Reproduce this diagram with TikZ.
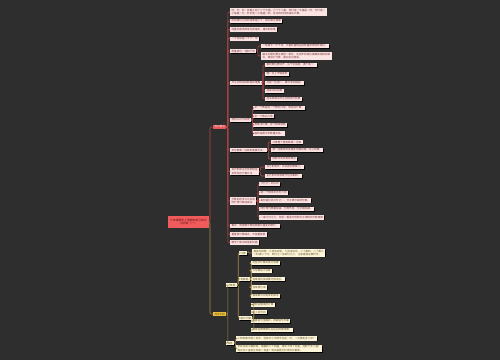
\documentclass[tikz,border=0pt]{standalone}
\usepackage{fontspec}
\setmainfont{Noto Sans CJK SC}
\usetikzlibrary{shadows}

\definecolor{bgcol}{HTML}{2E2E2E}
\definecolor{rootred}{HTML}{F25B5B}
\definecolor{rootink}{HTML}{5C1414}
\definecolor{knowred}{HTML}{E35858}
\definecolor{pinkfill}{HTML}{FBE4E4}
\definecolor{redink}{HTML}{7A3434}
\definecolor{redwire}{HTML}{B44646}
\definecolor{goldfill}{HTML}{F2C13A}
\definecolor{creamfill}{HTML}{FDF5DA}
\definecolor{goldink}{HTML}{665628}
\definecolor{goldwire}{HTML}{A08A4A}

\tikzset{
	rootbox/.style={fill=rootred, text=rootink, anchor=west, align=center,
		font=\fontsize{2.8}{3.6}\selectfont, inner xsep=2pt, inner ysep=3pt},
	knowbox/.style={fill=knowred, text=pinkfill, anchor=west,
		font=\fontsize{2.6}{3.2}\selectfont, inner xsep=1.4pt, inner ysep=0.8pt},
	exerbox/.style={fill=goldfill, text=goldink, anchor=west,
		font=\fontsize{2.6}{3.2}\selectfont, inner xsep=1.4pt, inner ysep=0.8pt},
	leaf/.style={anchor=west, align=left, font=\fontsize{2.6}{3.2}\selectfont,
		inner xsep=1.4pt, inner ysep=0.8pt,
		drop shadow={shadow xshift=0.7pt, shadow yshift=-0.7pt, fill=black, opacity=0.9}},
	redleaf/.style={leaf, fill=pinkfill, text=redink},
	goldleaf/.style={leaf, fill=creamfill, text=goldink},
	redline/.style={draw=redwire, line width=0.6pt, rounded corners=1.2pt},
	goldline/.style={draw=goldwire, line width=0.6pt, rounded corners=1.2pt}
}

\begin{document}
\begin{tikzpicture}[x=1pt, y=-1pt]
	% Background and page size
	\fill[bgcol] (0,0) rectangle (500,360);
	\useasboundingbox (0,0) rectangle (500,360);

	% Root and the two main branches
	\node[rootbox] (root) at (168,222) {三年级数学上册期末复习知识\\点归纳（一）};
	\node[knowbox] (know) at (213,127) {知识要点};
	\node[exerbox] (exer) at (213,314) {典型例题};

	% Knowledge points
	\node[redleaf] (k1) at (230,12) {时、分、秒：钟面上有十二个大格，六十个小格，时针走一大格是一时，分针走一\\小格是一分，秒针走一小格是一秒，经过的时间用减法计算。};
	\node[redleaf] (k2) at (230,21) {时间单位之间的进率是六十，相邻单位换算};
	\node[redleaf] (k3) at (230,29.5) {测量长度常用单位有毫米、厘米和米等};
	\node[redleaf] (k4) at (230,38.5) {一千米就是一千个一米};
	\node[redleaf] (k5) at (230,51) {质量单位：吨和千克};
	\node[redleaf] (k6) at (230,83) {万以内的加法和减法笔算};
	\node[redleaf] (k7) at (230,120) {倍的认识与应用};
	\node[redleaf] (k8) at (230,150) {多位数乘一位数的笔算方法：};
	\node[redleaf] (k9) at (230,171.5) {长方形和正方形的特征\\及周长的计算方法};
	\node[redleaf] (k10) at (230,201) {分数的初步认识以及\\同分母分数加减法};
	\node[redleaf] (k11) at (230,226) {集合：用图表示两组数据中重复的部分。};
	\node[redleaf] (k12) at (230,234.5) {重叠部分要减去，不能重复数};
	\node[redleaf] (k13) at (230,242.5) {数学广角中的搭配问题};

	% Details of the knowledge points
	\node[redleaf] (k5a) at (261,46) {一吨等于一千千克，计量较重物品的质量常用吨作单位。};
	\node[redleaf] (k5b) at (261,56) {解决问题时要注意统一单位，先把不同单位换算成相同的单\\位，再进行计算，最后写出答语。};
	\node[redleaf] (k6a) at (265,65) {相同数位要对齐，从个位加起，满十进一。};
	\node[redleaf] (k6b) at (265,74) {哪一位上不够减时};
	\node[redleaf] (k6c) at (265,83) {从前一位退一，再与本位相加。};
	\node[redleaf] (k6d) at (265,91) {加减法的验算};
	\node[redleaf] (k6e) at (265,99) {加法和减法可以互相进行验算};
	\node[redleaf] (k7a) at (253,108) {求一个数是另一个数的几倍，用除法计算。};
	\node[redleaf] (k7b) at (253,116) {求一个数的几倍};
	\node[redleaf] (k7c) at (253,125) {用乘法计算，这个数乘倍数};
	\node[redleaf] (k7d) at (253,133.5) {画线段图分析数量关系。};
	\node[redleaf] (k8a) at (271,142) {口算整十整百数乘一位数};
	\node[redleaf] (k8b) at (271,150) {用一位数依次去乘多位数的每一位上的数。};
	\node[redleaf] (k8c) at (271,159) {因数中间有零的乘法};
	\node[redleaf] (k9a) at (265,167) {长方形周长：长加宽的和乘二。};
	\node[redleaf] (k9b) at (265,176) {正方形的周长等于边长乘四。};
	\node[redleaf] (k10a) at (259,184) {几分之一的认识};
	\node[redleaf] (k10b) at (259,192.5) {把一个物体平均分几份};
	\node[redleaf] (k10c) at (259,200.5) {每份是它的几分之一，分子表示取的份数。};
	\node[redleaf] (k10d) at (259,209) {同分母分数相加减，分母不变，分子相加减。};
	\node[redleaf] (k10e) at (259,217.5) {一减几分之几，先把一看成分母和分子相同的分数再算};

	% Exercises
	\node[goldleaf] (calc) at (226,285) {计算题};
	\node[goldleaf] (solve) at (226,343) {解答};
	\node[goldleaf] (oral) at (239,253) {口算};
	\node[goldleaf] (vert) at (239,279) {笔算题};
	\node[goldleaf] (mixed) at (239,318) {脱式计算};
	\node[goldleaf] (oral1) at (252,253) {直接写得数：三百加四百，九百减五百，二十乘四，八十乘六\\一时减二十分，四分之一加四分之二，注意看清运算符号。};
	\node[goldleaf] (vert1) at (251,263) {列竖式计算并进行验算};
	\node[goldleaf] (vert2) at (251,270.5) {三位数加三位数};
	\node[goldleaf] (vert3) at (251,279) {连续进位加法要记得进位。};
	\node[goldleaf] (vert4) at (251,287.5) {连续退位减};
	\node[goldleaf] (vert5) at (251,296) {被减数中间有零的减法};
	\node[goldleaf] (mixed1) at (251,304.5) {按照运算顺序计算};
	\node[goldleaf] (mixed2) at (251,312) {有小括号的};
	\node[goldleaf] (mixed3) at (251,321) {先算括号里面的，再算括号外面};
	\node[goldleaf] (mixed4) at (251,330) {同级运算要按从左往右的顺序算。};
	\node[goldleaf] (solve1) at (236,338.5) {小明家离学校八百米，他每天上学放学往返一次，一共要走多少米？};
	\node[goldleaf] (solve2) at (236,348.5) {学校买来三箱粉笔，每箱有二十四盒，用去了四十五盒，还剩下多少盒？\\再买多少盒就正好是一百盒？请先画图分析再列式解答。};

	% Connectors
	\draw[redline] (root.east) -- ++(1.2,0) |- (know.west);
	\draw[goldline] (root.east) -- ++(1.2,0) |- (exer.west);
	\foreach \c in {k1,k2,k3,k4,k5,k6,k7,k8,k9,k10,k11,k12,k13}
		\draw[redline] (know.east) -- ++(1.2,0) |- (\c.west);
	\foreach \p/\c in {k5/k5a,k5/k5b,k6/k6a,k6/k6b,k6/k6c,k6/k6d,k6/k6e,
		k7/k7a,k7/k7b,k7/k7c,k7/k7d,k8/k8a,k8/k8b,k8/k8c,k9/k9a,k9/k9b,
		k10/k10a,k10/k10b,k10/k10c,k10/k10d,k10/k10e}
		\draw[redline] (\p.east) -- ++(1.2,0) |- (\c.west);
	\foreach \p/\c in {exer/calc,exer/solve,calc/oral,calc/vert,calc/mixed,oral/oral1,
		vert/vert1,vert/vert2,vert/vert3,vert/vert4,vert/vert5,
		mixed/mixed1,mixed/mixed2,mixed/mixed3,mixed/mixed4,solve/solve1,solve/solve2}
		\draw[goldline] (\p.east) -- ++(1.2,0) |- (\c.west);
\end{tikzpicture}
\end{document}
